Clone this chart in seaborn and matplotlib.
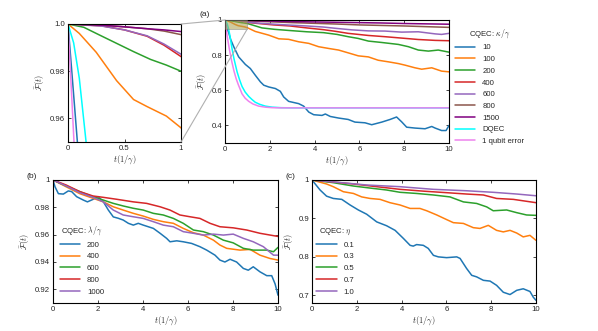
import numpy as np
import pandas as pd
import matplotlib
matplotlib.use("Agg")
import matplotlib.pyplot as plt
import seaborn as sns
from matplotlib.patches import Rectangle, ConnectionPatch

# =========================
# data (a): CQEC kappa/gamma, DQEC, 1 qubit error
# =========================
t_k10 = [0, 0.04, 0.083, 0.16, 0.25, 0.39, 0.61, 0.91, 1.13, 1.35, 1.58, 1.73, 1.95, 2.25, 2.47, 2.62, 2.84,
         3.29, 3.51, 3.74, 3.96, 4.33, 4.48, 4.7, 5.07, 5.5, 5.8, 6.25, 6.55, 7.0, 7.37, 7.66, 7.89, 8.11,
         8.48, 8.93, 9.23, 9.38, 9.67, 9.87, 10]
F_k10 = [1, 0.976, 0.95, 0.93, 0.89, 0.848, 0.79, 0.747, 0.724, 0.686, 0.648, 0.629, 0.619, 0.61, 0.594, 0.562,
         0.537, 0.524, 0.51, 0.476, 0.461, 0.457, 0.465, 0.451, 0.442, 0.434, 0.419, 0.415, 0.404, 0.419, 0.434,
         0.448, 0.42, 0.39, 0.385, 0.381, 0.394, 0.385, 0.371, 0.371, 0.40]
t_k100 = [0, 0.1, 0.25, 0.43, 0.58, 0.7, 0.87, 1.0, 1.35, 1.95, 2.4, 2.84, 3.29, 3.74, 4.18, 4.63, 5.07, 5.5,
          5.95, 6.4, 6.84, 7.29, 7.74, 8.04, 8.48, 8.78, 9.23, 9.67, 10]
F_k100 = [1, 0.996, 0.988, 0.976, 0.968, 0.965, 0.961, 0.956, 0.935, 0.914, 0.893, 0.89, 0.876, 0.867, 0.848,
          0.838, 0.829, 0.813, 0.796, 0.79, 0.771, 0.762, 0.752, 0.743, 0.728, 0.72, 0.728, 0.709, 0.705]
t_k200 = [0, 0.14, 0.28, 0.43, 0.58, 0.73, 0.87, 1.0, 1.65, 2.2, 2.9, 3.65, 4.4, 5.0, 5.5, 5.95, 6.4, 7.0,
          7.74, 8.19, 8.63, 9.08, 9.52, 10]
F_k200 = [1, 0.9986, 0.9953, 0.9918, 0.9883, 0.985, 0.9826, 0.980, 0.955, 0.947, 0.94, 0.933, 0.928, 0.918,
          0.905, 0.895, 0.88, 0.872, 0.861, 0.848, 0.829, 0.823, 0.829, 0.817]
t_k400 = [0, 0.3, 0.5, 0.7, 0.85, 1.0, 1.41, 2.16, 2.9, 3.65, 4.39, 4.91, 5.5, 6.4, 7.14, 7.89, 8.63, 9.38, 10]
F_k400 = [1, 0.9992, 0.9975, 0.9948, 0.991, 0.9862, 0.981, 0.972, 0.966, 0.955, 0.945, 0.936, 0.924, 0.912,
          0.905, 0.897, 0.889, 0.884, 0.882]
t_k600 = [0, 0.3, 0.5, 0.7, 0.85, 1.0, 1.5, 2.2, 2.9, 3.65, 4.39, 4.91, 5.65, 6.4, 7.14, 7.89, 8.63, 9.38,
          9.67, 10]
F_k600 = [1, 0.9991, 0.9975, 0.995, 0.9915, 0.9872, 0.982, 0.976, 0.971, 0.966, 0.96, 0.953, 0.944, 0.938,
          0.937, 0.931, 0.933, 0.921, 0.918, 0.924]
t_k800 = [0, 0.3, 0.5, 0.7, 0.85, 1.0, 2, 3, 4, 5, 6, 7, 8, 9, 10]
F_k800 = [1, 0.9995, 0.9988, 0.998, 0.997, 0.9955, 0.99, 0.985, 0.981, 0.977, 0.972, 0.969, 0.966, 0.962, 0.958]
t_k1500 = [0, 0.3, 0.5, 0.7, 0.85, 1.0, 2, 3, 4, 5, 6, 7, 8, 9, 10]
F_k1500 = [1, 0.9995, 0.9988, 0.998, 0.9975, 0.9968, 0.994, 0.991, 0.989, 0.987, 0.985, 0.983, 0.98, 0.978,
           0.976]
t_dqec = [0, 0.05, 0.1, 0.16, 0.22, 0.31, 0.4, 0.54, 0.65, 0.76, 0.9, 1.06, 1.2, 1.35, 1.55, 1.8, 2.1, 2.5, 3.0, 10]
F_dqec = [1, 0.992, 0.977, 0.95, 0.91, 0.84, 0.78, 0.705, 0.66, 0.622, 0.59, 0.565, 0.548, 0.532, 0.52, 0.51,
          0.504, 0.501, 0.5, 0.5]
t_1q = [0, 0.03, 0.053, 0.1, 0.2, 0.3, 0.4, 0.5, 0.6, 0.76, 0.9, 1.06, 1.25, 1.5, 1.8, 2.1, 2.5, 3, 10]
F_1q = [1, 0.972, 0.95, 0.905, 0.83, 0.765, 0.71, 0.665, 0.63, 0.58, 0.555, 0.537, 0.522, 0.51, 0.504, 0.501,
        0.5, 0.5, 0.5]

labels_a = ["10", "100", "200", "400", "600", "800", "1500", "DQEC", "1 qubit error"]
colors_a = ["#1f77b4", "#ff7f0e", "#2ca02c", "#d62728", "#9467bd", "#8c564b", "#800080", "cyan", "violet"]
series_a = [(t_k10, F_k10), (t_k100, F_k100), (t_k200, F_k200), (t_k400, F_k400), (t_k600, F_k600),
            (t_k800, F_k800), (t_k1500, F_k1500), (t_dqec, F_dqec), (t_1q, F_1q)]

# =========================
# data (b): CQEC lambda/gamma
# =========================
t_l200 = [0, 0.09, 0.24, 0.46, 0.68, 0.83, 1.05, 1.35, 1.53, 1.79, 2.01, 2.24, 2.46, 2.68, 2.9, 3.12, 3.35,
          3.57, 3.79, 4.01, 4.46, 4.76, 5.05, 5.2, 5.5, 5.79, 6.16, 6.53, 6.83, 7.2, 7.42, 7.64, 7.87, 8.16,
          8.46, 8.68, 8.9, 9.2, 9.5, 9.72, 9.87, 10]
F_l200 = [1, 0.995, 0.990, 0.9897, 0.992, 0.9915, 0.9878, 0.9853, 0.984, 0.9859, 0.9878, 0.984, 0.978, 0.973,
          0.972, 0.9707, 0.9683, 0.967, 0.9683, 0.967, 0.9646, 0.961, 0.9573, 0.9548, 0.9555, 0.9548, 0.9536,
          0.9512, 0.9487, 0.945, 0.9414, 0.940, 0.942, 0.940, 0.9353, 0.934, 0.9365, 0.9328, 0.930, 0.930,
          0.924, 0.9157]
t_l400 = [0, 0.59, 1.19, 1.78, 2.24, 2.68, 3.12, 3.57, 4.01, 4.46, 4.9, 5.35, 5.79, 6.24, 6.68, 7.13, 7.42,
          7.72, 8.31, 8.76, 9.2, 9.64, 10]
F_l400 = [1, 0.995, 0.990, 0.9866, 0.984, 0.9804, 0.978, 0.9756, 0.9736, 0.9712, 0.9695, 0.9683, 0.9646,
          0.9614, 0.9597, 0.956, 0.9524, 0.95, 0.9487, 0.9492, 0.945, 0.9426, 0.9414]
t_l600 = [0, 0.59, 1.19, 1.78, 2.24, 2.68, 3.12, 3.57, 4.01, 4.46, 4.9, 5.35, 5.79, 6.24, 6.68, 7.13, 7.57,
          8.01, 8.46, 8.9, 9.5, 9.8, 10]
F_l600 = [1, 0.9956, 0.9915, 0.9878, 0.9853, 0.9829, 0.981, 0.9793, 0.978, 0.9756, 0.9744, 0.9719, 0.9683,
          0.9634, 0.9622, 0.9597, 0.956, 0.954, 0.95, 0.9487, 0.9487, 0.9475, 0.9507]
t_l800 = [0, 0.59, 1.19, 1.78, 2.24, 2.83, 3.57, 4.16, 4.76, 5.2, 5.64, 6.09, 6.53, 6.98, 7.42, 8.01, 8.61,
          9.2, 10]
F_l800 = [1, 0.9963, 0.9915, 0.9883, 0.9873, 0.9859, 0.984, 0.9829, 0.9804, 0.978, 0.9744, 0.9731, 0.9719,
          0.9683, 0.9658, 0.965, 0.9634, 0.961, 0.9587]
t_l1000 = [0, 0.59, 1.19, 1.78, 2.24, 2.68, 3.12, 3.57, 4.01, 4.46, 4.9, 5.35, 5.79, 6.24, 6.68, 7.13, 7.57,
           8.01, 8.46, 8.9, 9.35, 9.8, 10]
F_l1000 = [1, 0.9956, 0.9907, 0.9873, 0.984, 0.978, 0.9744, 0.9731, 0.9719, 0.9695, 0.967, 0.9658, 0.9622,
           0.961, 0.9597, 0.9604, 0.9597, 0.9604, 0.9573, 0.9548, 0.9512, 0.945, 0.945]

labels_b = ["200", "400", "600", "800", "1000"]
series_b = [(t_l200, F_l200), (t_l400, F_l400), (t_l600, F_l600), (t_l800, F_l800), (t_l1000, F_l1000)]

# =========================
# data (c): CQEC eta
# =========================
t_e01 = [0, 0.36, 0.65, 0.95, 1.33, 1.7, 2.07, 2.44, 2.89, 3.33, 3.71, 4.08, 4.38, 4.52, 4.67, 4.97, 5.19,
         5.42, 5.64, 6.01, 6.46, 6.61, 6.9, 7.13, 7.35, 7.65, 7.95, 8.24, 8.54, 8.84, 9.14, 9.43, 9.73, 9.88, 10]
F_e01 = [1, 0.974, 0.958, 0.952, 0.9496, 0.935, 0.922, 0.911, 0.891, 0.881, 0.869, 0.848, 0.83, 0.828, 0.832,
         0.83, 0.822, 0.804, 0.8, 0.798, 0.8, 0.796, 0.77, 0.752, 0.748, 0.739, 0.737, 0.726, 0.708, 0.702,
         0.713, 0.717, 0.71, 0.695, 0.687]
t_e03 = [0, 0.65, 0.95, 1.4, 1.85, 2.22, 2.59, 3.04, 3.48, 3.93, 4.38, 4.82, 5.12, 5.57, 6.01, 6.31, 6.76,
         7.2, 7.5, 7.87, 8.24, 8.54, 8.84, 9.14, 9.43, 9.73, 10]
F_e03 = [1, 0.9896, 0.9826, 0.9695, 0.965, 0.956, 0.952, 0.9496, 0.941, 0.935, 0.926, 0.926, 0.92, 0.909,
         0.897, 0.889, 0.887, 0.876, 0.874, 0.882, 0.869, 0.865, 0.869, 0.862, 0.852, 0.856, 0.843]
t_e05 = [0, 0.95, 1.85, 2.74, 3.33, 3.93, 4.67, 5.42, 6.16, 6.76, 7.35, 7.8, 8.09, 8.69, 9.14, 9.58, 10]
F_e05 = [1, 0.993, 0.9843, 0.978, 0.974, 0.968, 0.965, 0.961, 0.956, 0.943, 0.939, 0.93, 0.92, 0.922, 0.915,
         0.909, 0.908]
t_e07 = [0, 0.95, 1.85, 2.89, 3.93, 4.97, 6.01, 6.9, 7.65, 8.24, 8.99, 10]
F_e07 = [1, 0.9948, 0.9896, 0.9826, 0.9757, 0.971, 0.967, 0.9635, 0.961, 0.952, 0.9496, 0.941]
t_e10 = [0, 0.95, 2.44, 3.93, 5.42, 6.9, 8.09, 9.14, 10]
F_e10 = [1, 0.995, 0.987, 0.9826, 0.9757, 0.972, 0.968, 0.9635, 0.959]

labels_c = ["0.1", "0.3", "0.5", "0.7", "1.0"]
series_c = [(t_e01, F_e01), (t_e03, F_e03), (t_e05, F_e05), (t_e07, F_e07), (t_e10, F_e10)]

colors_bc = ["#1f77b4", "#ff7f0e", "#2ca02c", "#d62728", "#9467bd"]

# tick labels
xticks_main = [0, 2, 4, 6, 8, 10]
xticks_inset = [0, 0.5, 1]
xticklabels_inset = ["0", "0.5", "1"]
yticks_inset = [0.96, 0.98, 1.0]
yticklabels_inset = ["0.96", "0.98", "1.0"]
yticks_a = [0.4, 0.6, 0.8, 1.0]
yticklabels_a = ["0.4", "0.6", "0.8", "1"]
yticks_b = [0.92, 0.94, 0.96, 0.98, 1.0]
yticklabels_b = ["0.92", "0.94", "0.96", "0.98", "1"]
yticks_c = [0.7, 0.8, 0.9, 1.0]
yticklabels_c = ["0.7", "0.8", "0.9", "1"]


def long_form(series, labels):
    frames = []
    for (t, F), lab in zip(series, labels):
        frames.append(pd.DataFrame({"t": t, "F": F, "case": lab}))
    return pd.concat(frames, ignore_index=True)


df_a = long_form(series_a, labels_a)
df_b = long_form(series_b, labels_b)
df_c = long_form(series_c, labels_c)

sns.set_style("ticks")
plt.rcParams["font.family"] = ["Liberation Sans", "DejaVu Sans"]
plt.rcParams["mathtext.fontset"] = "cm"
plt.rcParams["axes.linewidth"] = 0.8
FS = 5.6

fig = plt.figure(figsize=(5.98, 3.31), dpi=100)
W, H = 598, 331


def px_axes(left, top, right, bottom):
    return fig.add_axes([left / W, 1 - bottom / H, (right - left) / W, (bottom - top) / H])


ax_in = px_axes(68, 24, 181, 142)
ax_a = px_axes(225, 20, 449, 143)
ax_b = px_axes(53, 180, 278, 303)
ax_c = px_axes(312, 180, 536, 303)

pal_a = dict(zip(labels_a, colors_a))
LW = 1.1

sns.lineplot(data=df_a, x="t", y="F", hue="case", hue_order=labels_a, palette=pal_a,
             estimator=None, sort=False, lw=LW, legend=False, ax=ax_in)
sns.lineplot(data=df_a, x="t", y="F", hue="case", hue_order=labels_a, palette=pal_a,
             estimator=None, sort=False, lw=LW, legend=True, ax=ax_a)
sns.lineplot(data=df_b, x="t", y="F", hue="case", hue_order=labels_b,
             palette=dict(zip(labels_b, colors_bc)), estimator=None, sort=False, lw=LW, legend=True, ax=ax_b)
sns.lineplot(data=df_c, x="t", y="F", hue="case", hue_order=labels_c,
             palette=dict(zip(labels_c, colors_bc)), estimator=None, sort=False, lw=LW, legend=True, ax=ax_c)

ylab = r"$\bar{\mathcal{F}}(t)$"
xlab = r"$t(1/\gamma)$"
for ax in (ax_in, ax_a, ax_b, ax_c):
    ax.tick_params(direction="in", top=True, right=True, length=2.5, width=0.6, labelsize=FS, pad=2)
    ax.set_xlabel(xlab, fontsize=FS + 0.5, labelpad=1)
    ax.set_ylabel(ylab, fontsize=FS + 0.5, labelpad=2)
    for s in ax.spines.values():
        s.set_visible(True)
        s.set_color("black")

ax_in.set_xlim(0, 1)
ax_in.set_ylim(0.95, 1.0)
ax_in.set_xticks(xticks_inset, xticklabels_inset)
ax_in.set_yticks(yticks_inset, yticklabels_inset)

ax_a.set_xlim(0, 10)
ax_a.set_ylim(0.3, 1.0)
ax_a.set_xticks(xticks_main, [str(v) for v in xticks_main])
ax_a.set_yticks(yticks_a, yticklabels_a)

ax_b.set_xlim(0, 10)
ax_b.set_ylim(0.91, 1.0)
ax_b.set_xticks(xticks_main, [str(v) for v in xticks_main])
ax_b.set_yticks(yticks_b, yticklabels_b)

ax_c.set_xlim(0, 10)
ax_c.set_ylim(0.68, 1.0)
ax_c.set_xticks(xticks_main, [str(v) for v in xticks_main])
ax_c.set_yticks(yticks_c, yticklabels_c)

# zoom marker in (a) and connectors to the inset
ax_a.add_patch(Rectangle((0, 0.95), 1, 0.05, facecolor="#a8a050", edgecolor="gray",
                         alpha=0.55, lw=0.6, zorder=3))
for xa, ya, xb, yb in [(1, 1, 0, 1.0), (1, 0, 1, 0.95)]:
    con = ConnectionPatch(xyA=(xa, ya), coordsA=ax_in.transAxes, xyB=(xb, yb), coordsB=ax_a.transData,
                          color="#b0b0b0", lw=0.8)
    fig.add_artist(con)

leg_kw = dict(frameon=False, fontsize=FS, title_fontsize=FS, handlelength=2.6, handletextpad=0.9,
              labelspacing=0.55, borderpad=0, borderaxespad=0)

h, l = ax_a.get_legend_handles_labels()
ax_a.legend(h, l, title=r"CQEC: $\kappa/\gamma$", loc="upper left",
            bbox_to_anchor=(455 / W, 1 - 27 / H), bbox_transform=fig.transFigure, **leg_kw)
h, l = ax_b.get_legend_handles_labels()
ax_b.legend(h, l, title=r"CQEC: $\lambda/\gamma$", loc="lower left", bbox_to_anchor=(0.03, 0.06), **leg_kw)
h, l = ax_c.get_legend_handles_labels()
ax_c.legend(h, l, title=r"CQEC: $\eta$", loc="lower left", bbox_to_anchor=(0.02, 0.06), **leg_kw)

fig.text(205 / W, 1 - 15 / H, "(a)", fontsize=FS + 0.5, ha="center", va="center")
fig.text(32 / W, 1 - 177 / H, "(b)", fontsize=FS + 0.5, ha="center", va="center")
fig.text(291 / W, 1 - 177 / H, "(c)", fontsize=FS + 0.5, ha="center", va="center")

fig.savefig("out.png", dpi=100)
